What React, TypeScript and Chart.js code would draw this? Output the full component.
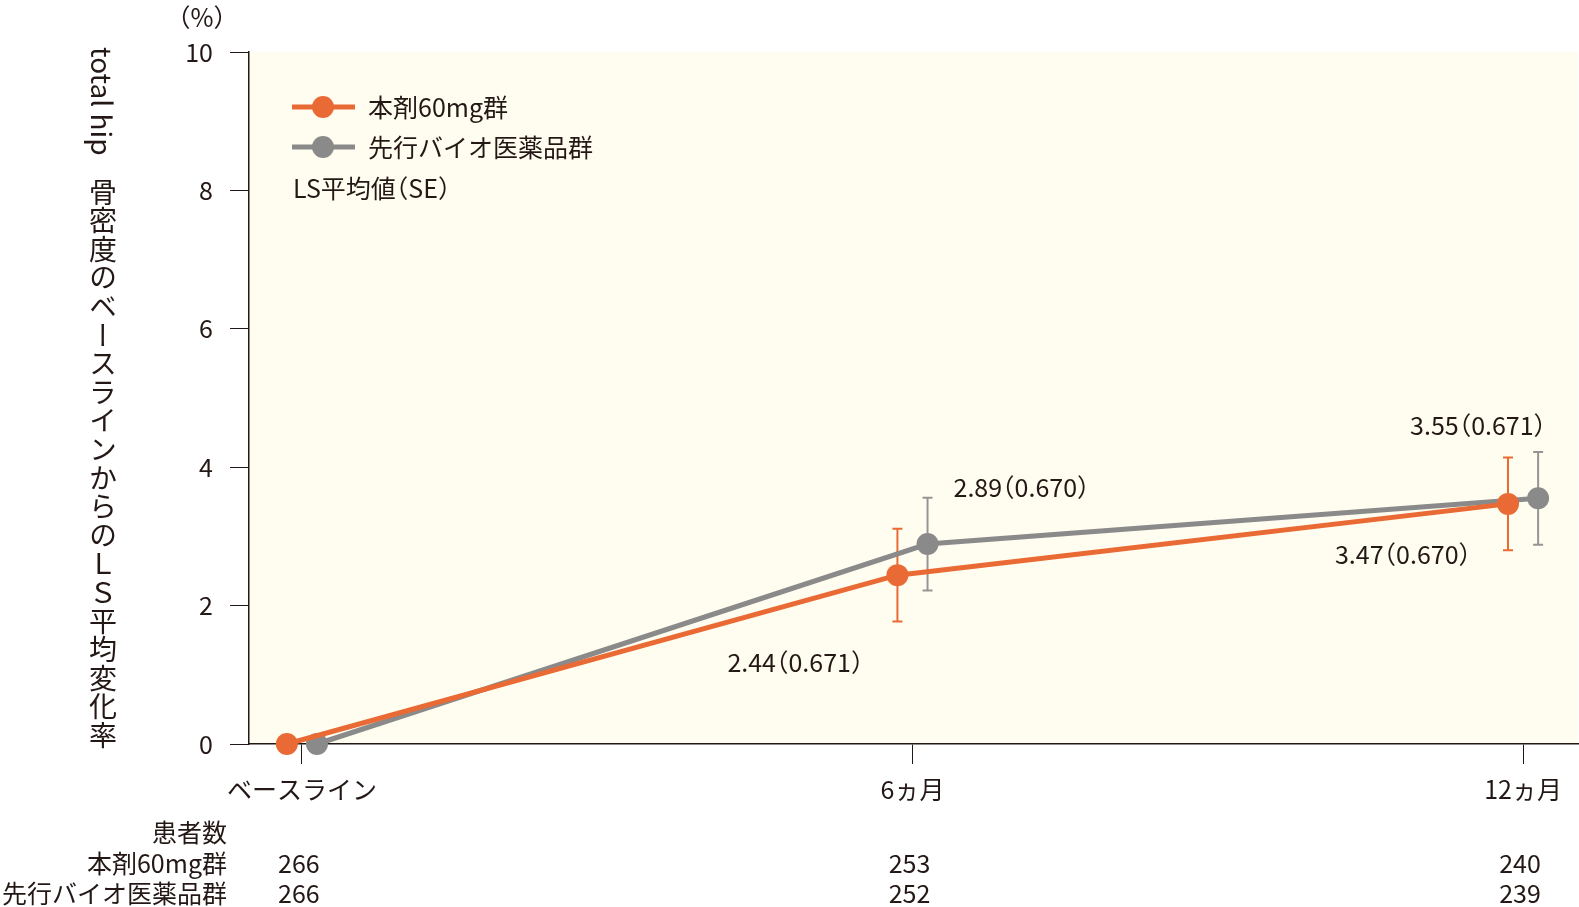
import { useEffect, useRef } from 'react';
import Chart from 'chart.js/auto';

// データ
const months = [0, 6, 12];
const xLabels = ['ベースライン', '6ヵ月', '12ヵ月'];
const seriesNames = ['本剤60mg群', '先行バイオ医薬品群'];
const drugMean = [0, 2.44, 3.47];
const drugSE = [0, 0.671, 0.670];
const bioMean = [0, 2.89, 3.55];
const bioSE = [0, 0.670, 0.671];
const drugN = [266, 253, 240];
const bioN = [266, 252, 239];
const yTicks = [0, 2, 4, 6, 8, 10];

const W = 1579;
const H = 907;
const ORANGE = '#ea6a35';
const GREY = '#8a8a8a';
const GREY_BAR = '#959595';
const INK = '#231815';
const FONT = '"Noto Sans CJK JP", "Noto Sans", sans-serif';
const FS = 25;
const DODGE = 0.148; // 群ごとに左右へずらす（月単位）

// ラベル位置（点からのpx）[系列][時点]
const labelOffsets = [
    [null, [-102, 87], [-105, 51]],
    [null, [94, -57], [-60, -73]],
];

const means = [drugMean, bioMean];
const ses = [drugSE, bioSE];
const colors = [ORANGE, GREY];
const barColors = [ORANGE, GREY_BAR];

// 全角カッコを詰めて描く（palt風）
function drawText(ctx: CanvasRenderingContext2D, text: string, x: number, y: number, align: 'left' | 'center' | 'right') {
    const em = FS;
    const items: { s: string; off: number; adv: number }[] = [];
    let buf = '';
    const flush = () => {
        if (buf) items.push({ s: buf, off: 0, adv: ctx.measureText(buf).width });
        buf = '';
    };
    for (const ch of text) {
        if (ch === '（') { flush(); items.push({ s: ch, off: -0.5 * em, adv: 0.5 * em }); }
        else if (ch === '）') { flush(); items.push({ s: ch, off: 0, adv: 0.5 * em }); }
        else buf += ch;
    }
    flush();
    const total = items.reduce((t, it) => t + it.adv, 0);
    let cx = align === 'left' ? x : align === 'center' ? x - total / 2 : x - total;
    ctx.save();
    ctx.textAlign = 'left';
    items.forEach(it => {
        ctx.fillText(it.s, cx + it.off, y);
        cx += it.adv;
    });
    ctx.restore();
}

const decorPlugin = {
    id: 'decor',
    beforeDraw(chart: any) {
        const { ctx, chartArea: a } = chart;
        ctx.save();
        ctx.fillStyle = '#fffdef';
        ctx.fillRect(a.left, a.top, a.right - a.left, a.bottom - a.top);
        ctx.restore();
    },
    beforeDatasetsDraw(chart: any) {
        const { ctx } = chart;
        const y = chart.scales.y;
        ctx.save();
        ctx.lineWidth = 2;
        means.forEach((m, i) => {
            const meta = chart.getDatasetMeta(i);
            m.forEach((v, j) => {
                const se = ses[i][j];
                if (!se) return;
                const x = meta.data[j].x;
                const y1 = y.getPixelForValue(v + se);
                const y2 = y.getPixelForValue(v - se);
                ctx.strokeStyle = barColors[i];
                ctx.beginPath();
                ctx.moveTo(x, y1); ctx.lineTo(x, y2);
                ctx.moveTo(x - 5, y1); ctx.lineTo(x + 5, y1);
                ctx.moveTo(x - 5, y2); ctx.lineTo(x + 5, y2);
                ctx.stroke();
            });
        });
        ctx.restore();
    },
    afterDraw(chart: any) {
        const { ctx, chartArea: a } = chart;
        const xs = chart.scales.x;
        ctx.save();
        ctx.fillStyle = INK;
        ctx.font = `${FS}px ${FONT}`;
        ctx.textBaseline = 'middle';

        // 数値ラベル
        means.forEach((m, i) => {
            const meta = chart.getDatasetMeta(i);
            m.forEach((v, j) => {
                const off = labelOffsets[i][j];
                if (!off) return;
                const p = meta.data[j];
                drawText(ctx, `${v.toFixed(2)}（${ses[i][j].toFixed(3)}）`, p.x + off[0], p.y + off[1], 'center');
            });
        });

        // 単位
        drawText(ctx, '（%）', 202, 17, 'center');

        // 凡例
        const lx = a.left + 43;
        [a.top + 55, a.top + 95].forEach((ly, i) => {
            ctx.strokeStyle = colors[i];
            ctx.lineWidth = 5;
            ctx.beginPath();
            ctx.moveTo(lx, ly); ctx.lineTo(lx + 63, ly);
            ctx.stroke();
            ctx.fillStyle = colors[i];
            ctx.beginPath();
            ctx.arc(lx + 31, ly, 11, 0, Math.PI * 2);
            ctx.fill();
            ctx.fillStyle = INK;
            drawText(ctx, seriesNames[i], lx + 76, ly, 'left');
        });
        drawText(ctx, 'LS平均値（SE）', lx + 1, a.top + 136, 'left');

        // 患者数
        drawText(ctx, '患者数', 227, 832, 'right');
        drawText(ctx, seriesNames[0], 227, 863, 'right');
        drawText(ctx, seriesNames[1], 227, 893, 'right');
        months.forEach((mo, j) => {
            const x = xs.getPixelForValue(mo);
            drawText(ctx, String(drugN[j]), x - 3, 863, 'center');
            drawText(ctx, String(bioN[j]), x - 3, 893, 'center');
        });
        ctx.restore();
    },
};

export default function App() {
    const canvasRef = useRef<HTMLCanvasElement | null>(null);
    const chartInstance = useRef<Chart | null>(null);

    useEffect(() => {
        document.documentElement.style.overflow = 'hidden';
        document.body.style.margin = '0';
    }, []);

    useEffect(() => {
        if (!canvasRef.current) return;
        if (chartInstance.current) chartInstance.current.destroy();

        chartInstance.current = new Chart(canvasRef.current, {
            type: 'line',
            data: {
                datasets: [
                    {
                        label: seriesNames[0],
                        data: months.map((mo, j) => ({ x: mo - DODGE, y: drugMean[j] })),
                        borderColor: ORANGE,
                        backgroundColor: ORANGE,
                        borderWidth: 5,
                        pointRadius: 11,
                        pointBorderWidth: 0,
                        pointBackgroundColor: ORANGE,
                        clip: false,
                    },
                    {
                        label: seriesNames[1],
                        data: months.map((mo, j) => ({ x: mo + DODGE, y: bioMean[j] })),
                        borderColor: GREY,
                        backgroundColor: GREY,
                        borderWidth: 5,
                        pointRadius: 11,
                        pointBorderWidth: 0,
                        pointBackgroundColor: GREY,
                        clip: false,
                    },
                ],
            },
            options: {
                responsive: false,
                animation: false,
                events: [],
                layout: { autoPadding: false, padding: { top: 52, right: 1, left: 0, bottom: 0 } },
                plugins: { legend: { display: false }, tooltip: { enabled: false } },
                scales: {
                    x: {
                        type: 'linear',
                        min: -0.52,
                        max: 12.54,
                        afterFit: (s: any) => {
                            s.height = 163;
                            s.paddingLeft = 0;
                            s.paddingRight = 0;
                        },
                        afterBuildTicks: (s: any) => { s.ticks = months.map(v => ({ value: v })); },
                        ticks: {
                            color: INK,
                            font: { family: FONT, size: FS },
                            padding: 10,
                            maxRotation: 0,
                            autoSkip: false,
                            callback: (v: any) => xLabels[months.indexOf(Number(v))],
                        },
                        grid: { drawOnChartArea: false, tickLength: 20, color: INK, lineWidth: 1 },
                        border: { display: true, color: INK, width: 1.5 },
                    },
                    y: {
                        min: 0,
                        max: 10,
                        afterFit: (s: any) => {
                            s.width = 249;
                            s.paddingTop = 0;
                            s.paddingBottom = 0;
                        },
                        afterBuildTicks: (s: any) => { s.ticks = yTicks.map(v => ({ value: v })); },
                        ticks: {
                            color: INK,
                            font: { family: FONT, size: FS },
                            padding: 17,
                        },
                        grid: { drawOnChartArea: false, tickLength: 19, color: INK, lineWidth: 1 },
                        border: { display: true, color: INK, width: 1.5 },
                    },
                },
            },
            plugins: [decorPlugin],
        } as any);

        return () => {
            if (chartInstance.current) {
                chartInstance.current.destroy();
                chartInstance.current = null;
            }
        };
    }, []);

    return (
        <div style={{ position: 'fixed', left: 0, top: 0, width: W, height: H, background: '#fff', overflow: 'hidden' }}>
            <canvas ref={canvasRef} width={W} height={H} style={{ display: 'block' }}></canvas>
            <div
                style={{
                    position: 'absolute',
                    left: 89,
                    top: 47,
                    writingMode: 'vertical-rl',
                    textOrientation: 'mixed',
                    fontFamily: FONT,
                    fontSize: 28,
                    lineHeight: '28px',
                    color: INK,
                    whiteSpace: 'nowrap',
                }}
            >
                <span>total hip</span>
                <span style={{ marginInlineStart: 22, letterSpacing: 0.6 }}>骨密度のベースラインからのＬＳ平均変化率</span>
            </div>
        </div>
    );
}
